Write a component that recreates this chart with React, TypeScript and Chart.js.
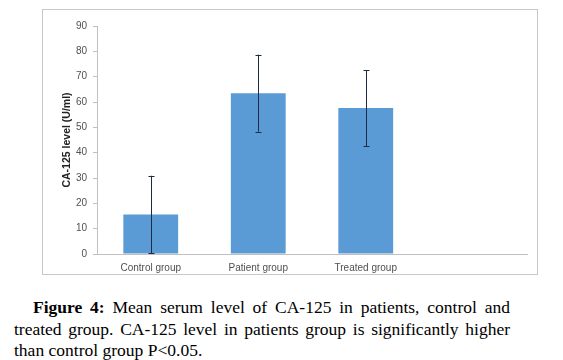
import React, { useEffect, useRef } from "react";
import { Chart, registerables } from "chart.js";

Chart.register(...registerables);

const categories = ["Control group", "Patient group", "Treated group", ""];
const meanValues = [15.6, 63.5, 57.6, null];
const sdValues = [15.3, 15.2, 15.0, null];
const yMin = 0;
const yMax = 90;
const yStep = 10;
const yTitle = "CA-125 level (U/ml)";

const errorBarPlugin = {
  id: "errorBars",
  afterDatasetsDraw(chart: any) {
    const meta = chart.getDatasetMeta(0);
    const yScale = chart.scales.y;
    const ctx = chart.ctx;
    ctx.save();
    ctx.strokeStyle = "#1f2a44";
    ctx.lineWidth = 1;
    meta.data.forEach((bar: any, i: number) => {
      const m = meanValues[i];
      const s = sdValues[i];
      if (m == null || s == null) return;
      const x = Math.round(bar.x) + 0.5;
      const yHi = yScale.getPixelForValue(m + s);
      const yLo = yScale.getPixelForValue(m - s);
      ctx.beginPath();
      ctx.moveTo(x, yHi);
      ctx.lineTo(x, yLo);
      ctx.moveTo(x - 3, Math.round(yHi) + 0.5);
      ctx.lineTo(x + 3, Math.round(yHi) + 0.5);
      ctx.moveTo(x - 3, Math.round(yLo) + 0.5);
      ctx.lineTo(x + 3, Math.round(yLo) + 0.5);
      ctx.stroke();
    });
    ctx.restore();
  },
};

function ChartBox() {
  const ref = useRef<HTMLCanvasElement | null>(null);
  useEffect(() => {
    if (!ref.current) return;
    const chart = new Chart(ref.current, {
      type: "bar",
      data: {
        labels: categories,
        datasets: [
          {
            data: meanValues as any,
            backgroundColor: "#5b9bd5",
            borderWidth: 0,
            barPercentage: 0.51,
            categoryPercentage: 1,
          },
        ],
      },
      options: {
        animation: false,
        responsive: true,
        maintainAspectRatio: false,
        layout: { padding: { top: 16, right: 10, left: 0, bottom: 0 } },
        plugins: { legend: { display: false }, tooltip: { enabled: false } },
        scales: {
          x: {
            grid: { display: true, drawOnChartArea: false, drawTicks: false },
            border: { color: "#c0c0c0", width: 1 },
            ticks: {
              padding: 8,
              color: "#505050",
              font: { family: "Liberation Sans", size: 10 },
              maxRotation: 0,
            },
            afterFit(scale: any) {
              scale.height = 20;
            },
          },
          y: {
            min: yMin,
            max: yMax,
            grid: { display: true, drawOnChartArea: false, tickLength: 4, color: "#c0c0c0" },
            border: { color: "#c0c0c0", width: 1 },
            ticks: {
              stepSize: yStep,
              padding: 6,
              color: "#505050",
              font: { family: "Liberation Sans", size: 10 },
            },
            title: {
              display: true,
              text: yTitle,
              color: "#222",
              font: { family: "Liberation Sans", size: 10.5, weight: "bold" },
              padding: { top: 18, bottom: 0 },
            },
            afterFit(scale: any) {
              scale.width = 54;
            },
          },
        },
      },
      plugins: [errorBarPlugin],
    });
    return () => chart.destroy();
  }, []);
  return (
    <div
      style={{
        position: "absolute",
        left: 42,
        top: 9,
        width: 494,
        height: 264,
        border: "1px solid #c8c8c8",
        background: "#fff",
      }}
    >
      <div style={{ position: "relative", width: 494, height: 264 }}>
        <canvas ref={ref} />
      </div>
    </div>
  );
}

const lineStyle: React.CSSProperties = {
  position: "absolute",
  left: 14,
  width: 496,
  height: 21,
  lineHeight: "21px",
  whiteSpace: "nowrap",
  textAlign: "justify",
  textAlignLast: "justify" as any,
};

export default function App() {
  return (
    <div
      style={{
        position: "absolute",
        left: 0,
        top: 0,
        width: 563,
        height: 360,
        background: "#fff",
        fontFamily: "'Liberation Serif', 'Times New Roman', serif",
        fontSize: 17.5,
        color: "#000",
      }}
    >
      <ChartBox />
      <div style={{ ...lineStyle, top: 297, left: 33, width: 477, whiteSpace: "normal" }}>
        <b>Figure 4:</b> Mean serum level of CA-125 in patients, control and
      </div>
      <div style={{ ...lineStyle, top: 319, whiteSpace: "normal" }}>
        treated group. CA-125 level in patients group is significantly higher
      </div>
      <div style={{ ...lineStyle, top: 340, textAlign: "left", textAlignLast: "left" as any }}>
        than control group P&lt;0.05.
      </div>
    </div>
  );
}
